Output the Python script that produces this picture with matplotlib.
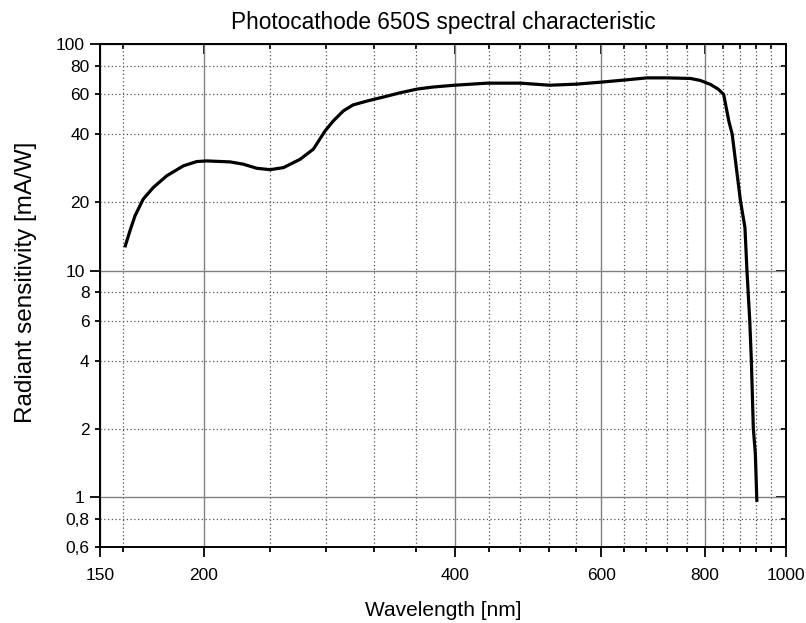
import matplotlib
matplotlib.use("Agg")
import matplotlib.pyplot as plt
from matplotlib.ticker import FixedLocator, FuncFormatter, NullFormatter

plt.rcParams["font.family"] = ["Liberation Sans", "DejaVu Sans"]

# values (nm, mA/W)
wavelength = [160.7, 163, 165.3, 169.1, 173.9, 180.4, 188.9, 196, 201.5, 215,
              223, 231.5, 240.2, 249.2, 260.9, 270.7, 279.6, 286, 294, 302,
              314, 332, 344, 361, 377, 400, 438, 480, 520, 560,
              600, 638, 681, 720, 768, 789, 812, 830, 842, 854,
              862, 882, 893, 898, 905, 909, 914, 919, 923]
sensitivity = [12.66, 15.0, 17.47, 20.7, 23.3, 26.2, 29.0, 30.3, 30.5, 30.2,
               29.5, 28.3, 27.9, 28.5, 31.0, 34.4, 41.4, 45.8, 50.7, 53.9,
               56.1, 59.0, 61.0, 63.4, 64.7, 65.9, 67.3, 67.3, 65.9, 66.6,
               68.0, 69.4, 71.0, 71.0, 70.6, 69.2, 66.4, 63.2, 60.0, 45.8,
               40.1, 20.3, 15.5, 10.0, 6.0, 4.0, 2.0, 1.56, 0.95]

x_major = [150, 200, 400, 600, 800, 1000]
x_minor = [160, 240, 280, 320, 360, 440, 480, 520, 560, 640, 680, 720, 760,
           840, 880, 920, 960]
y_major = [1, 10, 100]
y_minor = [0.6, 0.8, 2, 4, 6, 8, 20, 40, 60, 80]


def comma_fmt(v, pos=None):
    return f"{v:g}".replace(".", ",")


def inward_ticks(axis):
    axis.tick_params(which="both", direction="in", width=1.3)
    axis.tick_params(which="major", length=7)
    axis.tick_params(which="minor", length=3.6)


fig = plt.figure(figsize=(8.06, 6.23), dpi=100)
ax = fig.add_axes([0.124, 0.122, 0.851, 0.807])

ax.plot(wavelength, sensitivity, color="black", lw=2.3, zorder=5,
        solid_joinstyle="round", solid_capstyle="butt")

ax.set_xscale("log")
ax.set_yscale("log")
ax.set_xlim(150, 1000)
ax.set_ylim(0.6, 100)

ax.xaxis.set_major_locator(FixedLocator(x_major))
ax.xaxis.set_minor_locator(FixedLocator(x_minor))
ax.xaxis.set_major_formatter(FuncFormatter(comma_fmt))
ax.xaxis.set_minor_formatter(NullFormatter())
ax.yaxis.set_major_locator(FixedLocator(y_major))
ax.yaxis.set_minor_locator(FixedLocator(y_minor))
ax.yaxis.set_major_formatter(FuncFormatter(comma_fmt))
ax.yaxis.set_minor_formatter(FuncFormatter(comma_fmt))

ax.grid(which="major", color="#808080", lw=1.0, ls="-")
ax.grid(which="minor", color="#555555", lw=0.9, ls=(0, (1, 2)))

ax.tick_params(which="both", direction="out", width=1.3, labelsize=12.5,
               colors="black")
ax.tick_params(which="major", length=7)
ax.tick_params(which="minor", length=3.6)
ax.tick_params(axis="x", which="both", pad=8)
ax.tick_params(axis="y", which="both", pad=4)

for sp in ax.spines.values():
    sp.set_linewidth(1.4)

# top and right sides carry inward ticks, no labels
top = ax.secondary_xaxis("top")
top.xaxis.set_major_locator(FixedLocator(x_major))
top.xaxis.set_minor_locator(FixedLocator(x_minor))
top.xaxis.set_major_formatter(NullFormatter())
top.xaxis.set_minor_formatter(NullFormatter())
inward_ticks(top)
top.spines["top"].set_linewidth(1.4)

right = ax.secondary_yaxis("right")
right.yaxis.set_major_locator(FixedLocator(y_major))
right.yaxis.set_minor_locator(FixedLocator(y_minor))
right.yaxis.set_major_formatter(NullFormatter())
right.yaxis.set_minor_formatter(NullFormatter())
inward_ticks(right)
right.spines["right"].set_linewidth(1.4)

ax.set_title("Photocathode 650S spectral characteristic", fontsize=16.3, pad=11)
ax.set_xlabel("Wavelength [nm]", fontsize=15, labelpad=13)
ax.set_ylabel("Radiant sensitivity [mA/W]", fontsize=17.5)
ax.yaxis.set_label_coords(-0.092, 0.527)

fig.savefig("out.png", dpi=100, facecolor="white")
